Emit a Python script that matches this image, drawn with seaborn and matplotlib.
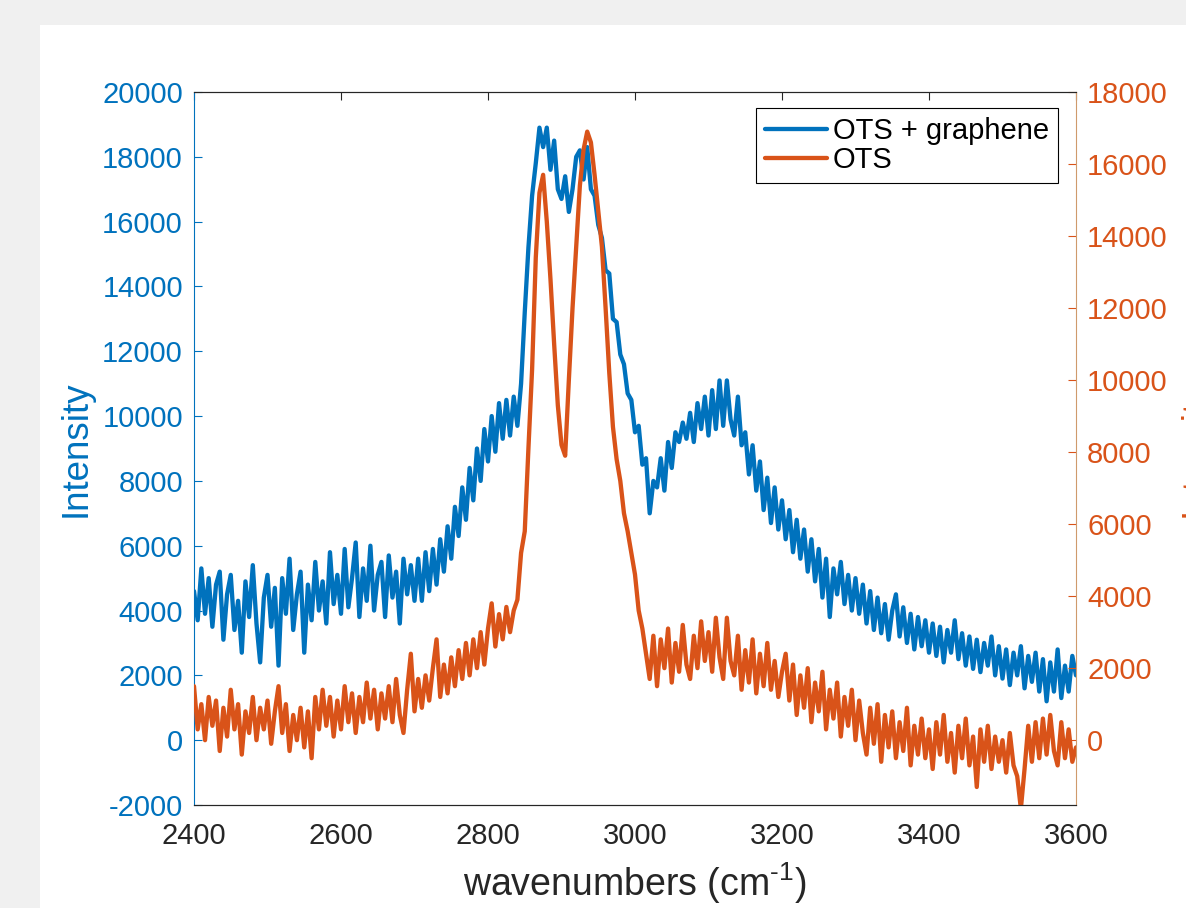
import matplotlib
matplotlib.use("Agg")
import matplotlib.pyplot as plt
from matplotlib.patches import Rectangle
import seaborn as sns
import numpy as np
import pandas as pd

# ── Data ──────────────────────────────────────────────────────────────────────
WAVENUMBERS = np.arange(2400, 3605, 5)

OTS_GRAPHENE = [
    4600, 3700, 5300, 3900, 5000, 3500, 4800, 5200, 3100, 4500, 5100, 3400, 4300, 2700, 4900, 3800, 5400, 3600, 2400, 4400,
    5100, 3500, 4700, 2300, 5000, 3900, 5600, 3400, 4500, 5200, 2700, 4800, 3700, 5500, 4000, 4900, 3600, 5800, 4200, 5100,
    3900, 5900, 4100, 5000, 6100, 3800, 5300, 4300, 6000, 4000, 5100, 5500, 3800, 5700, 4400, 5200, 3600, 5600, 4500, 5400,
    4300, 5600, 4300, 5800, 4600, 5900, 4800, 6200, 5200, 6600, 5600, 7200, 6300, 7800, 6800, 8400, 7400, 9000, 8000, 9600,
    8600, 10000, 8900, 10400, 9300, 10500, 9400, 10600, 9700, 11000, 13200, 15200, 16800, 17800, 18900, 18300, 18900, 17600, 18500, 17000,
    16700, 17400, 16300, 17000, 18000, 18200, 17300, 18300, 17000, 16800, 15900, 15500, 14500, 14400, 13000, 12900, 11900, 11600, 10700, 10500,
    9500, 9700, 8500, 8700, 7000, 8000, 7800, 8700, 7700, 9200, 8400, 9500, 9200, 9800, 9300, 10100, 9200, 10400, 9600, 10600,
    9400, 10800, 9600, 11100, 9700, 11100, 9900, 9400, 10600, 9100, 9500, 8200, 9100, 7700, 8600, 7100, 8100, 6700, 7800, 6500,
    7400, 6200, 7100, 5800, 6800, 5600, 6500, 5200, 6200, 4900, 5900, 4400, 5600, 3800, 5300, 4500, 5500, 4200, 5100, 4000,
    5000, 3900, 4800, 3600, 4600, 3400, 4400, 3300, 4200, 3100, 4000, 4500, 3200, 4100, 3000, 3900, 2800, 3800, 2900, 3700,
    2700, 3600, 2600, 3500, 2400, 3400, 2700, 3700, 2500, 3300, 2300, 3200, 2200, 3100, 2100, 3000, 2300, 3200, 2000, 2900,
    1900, 2800, 1700, 2700, 2000, 2900, 1600, 2600, 1800, 2700, 1500, 2500, 1200, 2400, 1500, 2800, 1300, 2300, 1500, 2600, 2000,
]

OTS = [
    1500, 300, 1000, 0, 1200, 400, 1100, -300, 900, 100, 1400, 300, 1000, -400, 800, 200, 1200, 0, 900, 300,
    1100, -100, 800, 1500, 200, 1000, -300, 700, 0, 900, -200, 800, -500, 1200, 300, 1400, 400, 1200, 100, 1100,
    300, 1500, 500, 1300, 200, 1200, 500, 1600, 600, 1400, 300, 1300, 600, 1500, 500, 1700, 700, 200, 1400, 2400,
    800, 1700, 900, 1800, 1100, 2000, 2800, 1200, 2100, 1300, 2300, 1500, 2500, 1700, 2700, 1800, 2800, 2000, 3000, 2100,
    3100, 3800, 2600, 3500, 2800, 3700, 3000, 3600, 3900, 5200, 5800, 8100, 10300, 13400, 15200, 15700, 14400, 12800, 11000, 9300,
    8200, 7900, 10000, 12000, 13700, 15400, 16400, 16900, 16600, 15700, 14700, 13700, 12000, 10200, 8700, 7800, 7200, 6300, 5800, 5200,
    4600, 3600, 3100, 2400, 1700, 2900, 1500, 2800, 2000, 3100, 1600, 2700, 1900, 3200, 2100, 1700, 2900, 2000, 3300, 2200,
    3000, 1900, 3400, 2300, 1700, 3400, 2200, 1800, 2900, 1400, 2500, 1600, 2800, 1300, 2400, 1500, 2700, 1400, 2200, 1200,
    1900, 2400, 1100, 2100, 700, 1800, 900, 2000, 500, 1600, 800, 1900, 300, 1400, 600, 1600, 100, 1200, 400, 1400,
    0, 1100, 200, -400, 900, -100, 1000, -600, 700, -200, 800, -500, 500, -300, 900, -700, 400, -400, 600, -500,
    300, -800, 500, -400, 700, -600, 200, -900, 400, -500, 600, -700, 100, -1300, 300, -600, 400, -800, 100, -600,
    0, -900, 200, -700, -1000, -1900, -800, 400, -600, 500, -500, 600, -400, 700, -300, -700, 500, -500, 300, -600, -200,
]

X_TICKS = [2400, 2600, 2800, 3000, 3200, 3400, 3600]
LEFT_TICKS = list(range(-2000, 20001, 2000))
RIGHT_TICKS = list(range(0, 18001, 2000))

BLUE = "#0072BD"
ORANGE = "#D95319"

df = pd.DataFrame({"wn": WAVENUMBERS, "graphene": OTS_GRAPHENE, "ots": OTS})

# ── Figure ────────────────────────────────────────────────────────────────────
sns.set_style("white")
plt.rcParams["font.family"] = ["Liberation Sans", "DejaVu Sans"]
plt.rcParams["mathtext.fontset"] = "custom"
plt.rcParams["mathtext.rm"] = "Liberation Sans"
plt.rcParams["axes.unicode_minus"] = False

W, H = 1186, 908
fig = plt.figure(figsize=(W / 100, H / 100), dpi=100, facecolor="#f0f0f0")
fig.patches.append(Rectangle((40 / W, 0), 1, 1 - 25 / H, transform=fig.transFigure,
                             facecolor="white", edgecolor="none", zorder=-1))

ax = fig.add_axes([194 / W, (H - 805) / H, 882 / W, 713 / H])
ax.set_facecolor("white")
ax2 = ax.twinx()

sns.lineplot(data=df, x="wn", y="graphene", ax=ax, color=BLUE, lw=3.1,
             estimator=None, label="OTS + graphene", legend=False)
sns.lineplot(data=df, x="wn", y="ots", ax=ax2, color=ORANGE, lw=3.1,
             estimator=None, label="OTS", legend=False)

ax.set_xlim(2400, 3600)
ax.set_ylim(-2000, 20000)
ax2.set_ylim(-1800, 18000)
ax.set_xticks(X_TICKS)
ax.set_yticks(LEFT_TICKS)
ax2.set_yticks(RIGHT_TICKS)

fs_tick = 21
ax.tick_params(axis="x", direction="in", length=6, width=0.8, color="#262626",
               labelsize=fs_tick, labelcolor="#262626", pad=12, top=True)
ax.tick_params(axis="y", direction="in", length=6, width=0.8, color=BLUE,
               labelsize=fs_tick, labelcolor=BLUE, pad=8, right=False)
ax2.tick_params(axis="y", direction="in", length=6, width=0.8, color=ORANGE,
                labelsize=fs_tick, labelcolor=ORANGE, pad=8)

for a in (ax, ax2):
    a.spines["top"].set_color("#262626")
    a.spines["bottom"].set_color("#262626")
    a.spines["top"].set_linewidth(0.8)
    a.spines["bottom"].set_linewidth(0.8)
ax.spines["left"].set_color(BLUE)
ax2.spines["left"].set_visible(False)
ax.spines["right"].set_visible(False)
ax2.spines["right"].set_color("#cf9a6c")
ax.spines["left"].set_linewidth(0.8)
ax2.spines["right"].set_linewidth(0.8)

ax.set_xlabel(r"wavenumbers (cm$^{\text{-}1}$)", fontsize=27, color="#262626", labelpad=8)
ax.set_ylabel("Intensity", fontsize=26.5, color=BLUE, labelpad=6)
ax2.set_ylabel("Intensity", fontsize=26.5, color=ORANGE, labelpad=8)

handles = ax.get_lines()[:1] + ax2.get_lines()[:1]
leg = ax2.legend(handles, ["OTS + graphene", "OTS"], loc="upper right",
                 bbox_to_anchor=(1058 / W, 1 - 108 / H), bbox_transform=fig.transFigure,
                 borderaxespad=0, fontsize=21, frameon=True, fancybox=False,
                 framealpha=1, edgecolor="black", borderpad=0.3, labelspacing=0.05,
                 handletextpad=0.2, handlelength=2.15)
leg.get_frame().set_linewidth(0.8)
for t in leg.get_texts():
    t.set_color("black")

fig.savefig("out.png", dpi=100, facecolor=fig.get_facecolor())
